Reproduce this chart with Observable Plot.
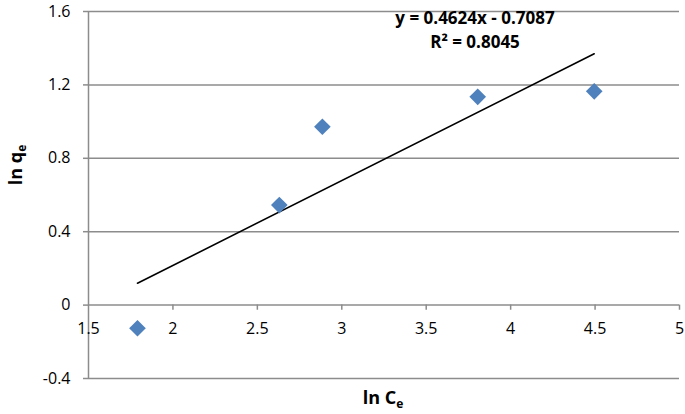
<!DOCTYPE html>
<html><head><meta charset="utf-8">
<script src="https://cdn.jsdelivr.net/npm/d3@7"></script>
<script src="https://cdn.jsdelivr.net/npm/@observablehq/plot@0.6"></script>
<style>body{margin:0;background:#fff;} #chart{position:relative;width:685px;height:414px;}</style>
</head><body><div id="chart"></div>
<script>
const lnCe = [1.79, 2.63, 2.885, 3.805, 4.495];
const lnQe = [-0.126, 0.545, 0.972, 1.135, 1.165];
const xTicks = [1.5, 2, 2.5, 3, 3.5, 4, 4.5, 5];
const yTicks = [-0.4, 0, 0.4, 0.8, 1.2, 1.6];
const slope = 0.4624, intercept = -0.7087;
const eqText = ["y = 0.4624x - 0.7087", "R² = 0.8045"];

const pts = lnCe.map((x, i) => ({x, y: lnQe[i]}));
const xmin = d3.min(lnCe), xmax = d3.max(lnCe);
const trend = [{x: xmin, y: slope * xmin + intercept}, {x: xmax, y: slope * xmax + intercept}];
const font = "'Open Sans', 'Liberation Sans', sans-serif";

const chart = Plot.plot({
  width: 685, height: 414,
  marginLeft: 88, marginRight: 6, marginTop: 11, marginBottom: 36,
  style: {fontFamily: font, fontSize: "16px", color: "#000", background: "#fff"},
  x: {domain: [1.5, 5], axis: null},
  y: {domain: [-0.4, 1.6], axis: null},
  marks: [
    Plot.ruleY(yTicks, {x1: 1.5, x2: 5, stroke: "#8c8c8c", strokeWidth: 1.5}),
    Plot.axisY(yTicks, {label: null, tickSize: 5, tickPadding: 13, stroke: "#8c8c8c", strokeWidth: 1.5, tickFormat: d => String(d), fontSize: 16, fill: "#000"}),
    Plot.ruleX([1.5], {y1: -0.4, y2: 1.6, stroke: "#8c8c8c", strokeWidth: 1.5}),
    Plot.ruleX(xTicks.slice(1), {y1: 0, y2: -0.028, stroke: "#8c8c8c", strokeWidth: 1.5}),
    Plot.text(xTicks, {x: d => d, y: 0, text: d => String(d), dy: 24, fontSize: 16, fill: "#000"}),
    Plot.line(trend, {x: "x", y: "y", stroke: "#000", strokeWidth: 1.6}),
    Plot.dot(pts, {x: "x", y: "y", symbol: "diamond2", r: 7.5, fill: "#4F81BD", stroke: "none"}),
  ]
});
document.getElementById("chart").appendChild(chart);

const svg = d3.select(chart);
svg.append("text").attr("x", 475).attr("y", 24).attr("text-anchor", "middle")
  .attr("font-family", font).attr("font-weight", "bold").attr("font-size", 17).text(eqText[0]);
svg.append("text").attr("x", 475).attr("y", 48).attr("text-anchor", "middle")
  .attr("font-family", font).attr("font-weight", "bold").attr("font-size", 17).text(eqText[1]);

const yl = svg.append("text").attr("transform", "translate(22,165) rotate(-90)").attr("text-anchor", "middle")
  .attr("font-family", font).attr("font-weight", "bold").attr("font-size", 18);
yl.append("tspan").text("ln q");
yl.append("tspan").attr("font-size", 12).attr("dy", 4).text("e");

const xl = svg.append("text").attr("x", 383).attr("y", 404).attr("text-anchor", "middle")
  .attr("font-family", font).attr("font-weight", "bold").attr("font-size", 18);
xl.append("tspan").text("ln C");
xl.append("tspan").attr("font-size", 12).attr("dy", 4).text("e");
</script>
</body></html>
